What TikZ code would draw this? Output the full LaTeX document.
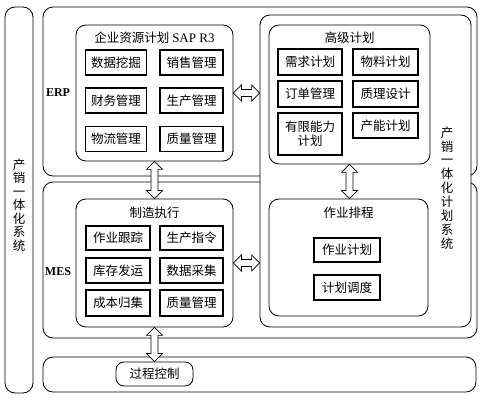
\documentclass[tikz,border=0pt]{standalone}
\usepackage{fontspec}
\setmainfont{Liberation Serif}
\newfontfamily\cjk{Noto Sans CJK SC}
\usetikzlibrary{calc}

\tikzset{
  frame/.style={draw, line width=0.8pt, rounded corners=10pt},
  group/.style={draw, fill=white, line width=0.8pt, rounded corners=10pt, inner sep=0pt},
  cell/.style={draw, fill=white, line width=1.1pt, minimum height=25pt, inner sep=0pt,
    font=\cjk\fontsize{12.5}{14}\selectfont},
  head/.style={font=\cjk\fontsize{12.5}{14}\selectfont},
  hollow/.style={draw, fill=white, line width=0.7pt, line join=miter},
}

% hollow double arrows between two anchors
\newcommand{\harrow}[2]{%
  \draw [hollow] let \p1 = (#1), \p2 = (#2) in
    (\x1,\y1) -- (\x1+8pt,\y1+8pt) -- (\x1+8pt,\y1+3.5pt) -- (\x2-8pt,\y1+3.5pt)
    -- (\x2-8pt,\y1+8pt) -- (\x2,\y1) -- (\x2-8pt,\y1-8pt) -- (\x2-8pt,\y1-3.5pt)
    -- (\x1+8pt,\y1-3.5pt) -- (\x1+8pt,\y1-8pt) -- cycle;}
\newcommand{\varrow}[2]{%
  \draw [hollow] let \p1 = (#1), \p2 = (#2) in
    (\x1,\y1) -- (\x1+8pt,\y1-8pt) -- (\x1+3.5pt,\y1-8pt) -- (\x1+3.5pt,\y2+8pt)
    -- (\x1+8pt,\y2+8pt) -- (\x1,\y2) -- (\x1-8pt,\y2+8pt) -- (\x1-3.5pt,\y2+8pt)
    -- (\x1-3.5pt,\y1-8pt) -- (\x1-8pt,\y1-8pt) -- cycle;}

\begin{document}
\begin{tikzpicture}[x=1pt, y=-1pt]

    \useasboundingbox (0,0) rectangle (483,401);

    % outer frames
    \draw [frame] (5,7) rectangle (33,393);
    \draw [frame] (43,7) rectangle (477,176);
    \draw [frame] (43,182) rectangle (477,338);
    \draw [frame] (43,357) rectangle (476,392);
    \node [group, minimum width=211pt, minimum height=312pt] (plansys) at (365.5,171) {};

    \node [head, align=center, font=\cjk\fontsize{12.5}{13.5}\selectfont] (sysname) at (19,205)
      {产\\销\\一\\体\\化\\系\\统};
    \node [head, align=center, font=\cjk\fontsize{12.5}{13.9}\selectfont] (planname) at (447,188)
      {产\\销\\一\\体\\化\\计\\划\\系\\统};
    \node [font=\bfseries\fontsize{12}{14}\selectfont] (erp) at (58,93) {ERP};
    \node [font=\bfseries\fontsize{12}{14}\selectfont] (mes) at (58,272) {MES};

    % ERP: SAP R3
    \node [group, minimum width=157pt, minimum height=136pt] (sap) at (154.5,93) {};
    \node [head] (saptitle) at (154.5,38) {企业资源计划 {\rmfamily\fontsize{13}{14}\selectfont SAP R3}};
    \node [cell, minimum width=61pt] (mining) at (116,62.5) {数据挖掘};
    \node [cell, minimum width=63pt] (sales) at (191.5,62.5) {销售管理};
    \node [cell, minimum width=61pt] (finance) at (116,100.5) {财务管理};
    \node [cell, minimum width=63pt] (prodmgmt) at (191.5,100.5) {生产管理};
    \node [cell, minimum width=61pt] (logistics) at (116,139) {物流管理};
    \node [cell, minimum width=63pt] (quality) at (191.5,139) {质量管理};

    % advanced planning
    \node [group, minimum width=161pt, minimum height=139pt] (adv) at (349.5,94.5) {};
    \node [head] (advtitle) at (349.5,38) {高级计划};
    \node [cell, minimum width=64pt, minimum height=26pt] (demand) at (310,62) {需求计划};
    \node [cell, minimum width=65pt, minimum height=26pt] (material) at (385.5,62) {物料计划};
    \node [cell, minimum width=64pt, minimum height=26pt] (order) at (310,94) {订单管理};
    \node [cell, minimum width=65pt, minimum height=26pt] (qdesign) at (385.5,94) {质理设计};
    \node [cell, minimum width=64pt, minimum height=42pt, align=center] (finite) at (310,134) {有限能力\\计划};
    \node [cell, minimum width=65pt, minimum height=25pt] (capacity) at (385.5,125.5) {产能计划};

    % scheduling
    \node [group, minimum width=159pt, minimum height=117pt] (sched) at (348.5,257.5) {};
    \node [head] (schedtitle) at (348.5,213) {作业排程};
    \node [cell, minimum width=66pt, minimum height=24pt] (jobplan) at (347,250) {作业计划};
    \node [cell, minimum width=66pt] (dispatch) at (347,287.5) {计划调度};

    % MES: execution
    \node [group, minimum width=157pt, minimum height=128pt] (exec) at (154.5,263) {};
    \node [head] (exectitle) at (154.5,213) {制造执行};
    \node [cell, minimum width=64pt, minimum height=24pt] (tracking) at (118,238) {作业跟踪};
    \node [cell, minimum width=63pt, minimum height=24pt] (command) at (191.5,238) {生产指令};
    \node [cell, minimum width=64pt] (stock) at (118,270.5) {库存发运};
    \node [cell, minimum width=63pt] (collect) at (191.5,270.5) {数据采集};
    \node [cell, minimum width=64pt, minimum height=26pt] (cost) at (118,303) {成本归集};
    \node [cell, minimum width=63pt, minimum height=26pt] (mquality) at (191.5,303) {质量管理};

    % process control
    \node [group, cell, line width=0.8pt, minimum width=77pt, minimum height=24pt, rounded corners=8pt] (proc) at (154.5,374) {过程控制};

    % connectors
    \harrow{sap.east}{plansys.west |- sap.east}
    \harrow{exec.east}{plansys.west |- exec.east}
    \varrow{sap.south}{exec.north}
    \varrow{adv.south}{sched.north}
    \varrow{exec.south}{proc.north}

\end{tikzpicture}
\end{document}
